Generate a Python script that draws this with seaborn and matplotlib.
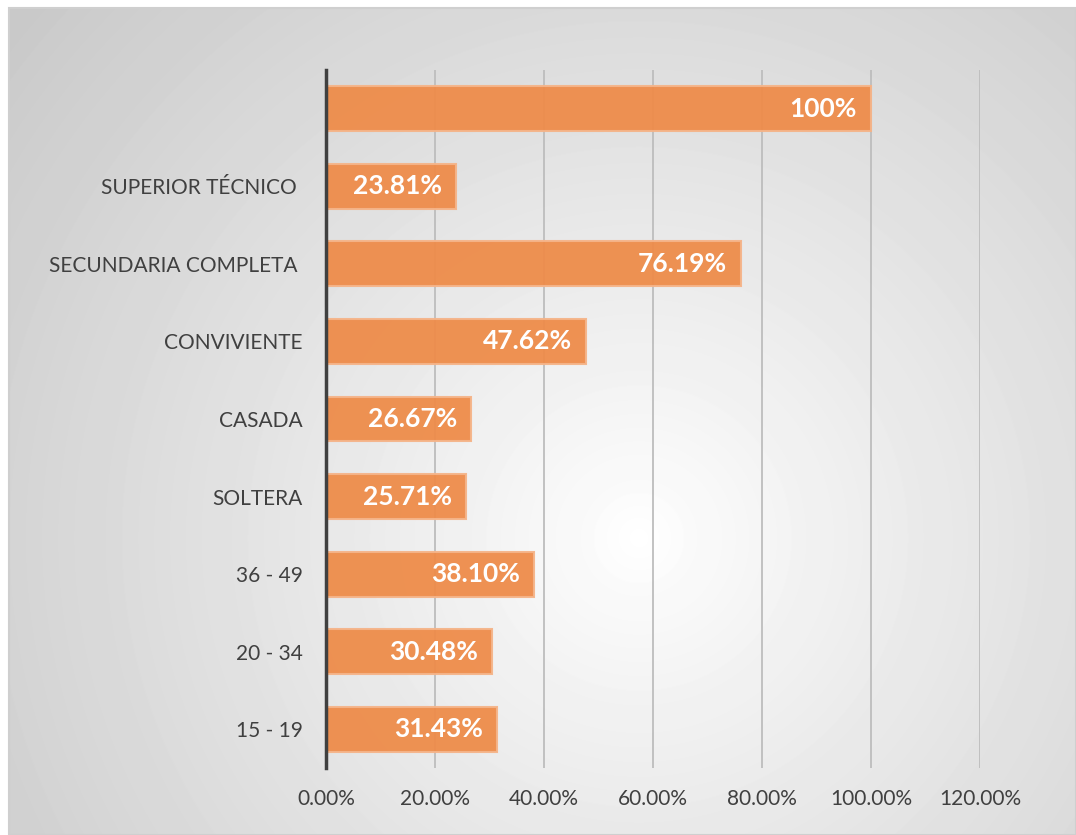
import numpy as np
import pandas as pd
import seaborn as sns
from matplotlib import pyplot as plt
from matplotlib.patches import Rectangle

# Data (top to bottom)
categories = ["", "SUPERIOR TÉCNICO ", "SECUNDARIA COMPLETA ", "CONVIVIENTE",
              "CASADA", "SOLTERA", "36 - 49", "20 - 34", "15 - 19"]
values = [100.0, 23.81, 76.19, 47.62, 26.67, 25.71, 38.10, 30.48, 31.43]
value_labels = ["100%", "23.81%", "76.19%", "47.62%", "26.67%", "25.71%",
                "38.10%", "30.48%", "31.43%"]
x_ticks = [0, 20, 40, 60, 80, 100, 120]

df = pd.DataFrame({"cat": categories, "pct": values})

sns.set_theme(style="white")
plt.rcParams["font.family"] = ["Lato", "DejaVu Sans"]

fig = plt.figure(figsize=(10.76, 8.35), dpi=100)
fig.patch.set_facecolor("white")

# radial gradient background of the chart area
bg = fig.add_axes([9 / 1076, 0, 1 - 9 / 1076, 1 - 8 / 835])
h, w = 827, 1067
yy, xx = np.mgrid[0:h, 0:w]
r = np.sqrt((xx - 630) ** 2 + (yy - 530) ** 2) / 850
grad = 1 - 0.22 * np.clip(r, 0, 1) ** 0.9
bg.imshow(grad, cmap="gray", vmin=0, vmax=1, aspect="auto", interpolation="bilinear")
bg.set_axis_off()
fig.add_artist(Rectangle((9 / 1076, 0), 1 - 9 / 1076, 1 - 8 / 835, transform=fig.transFigure,
                         fill=False, edgecolor="#CFCFCF", lw=1.5))

ax = fig.add_axes([326 / 1076, 67 / 835, (980 - 326) / 1076, (768 - 70) / 835])
ax.set_facecolor("none")
ax.set_axisbelow(True)
ax.grid(axis="x", color="#BDBDBD", lw=1.3)
ax.grid(axis="y", visible=False)

sns.barplot(data=df, x="pct", y="cat", order=categories, orient="h", ax=ax,
            color="#EE8C4A", saturation=1, alpha=0.95, width=0.58,
            edgecolor="#F5B489", linewidth=1.5)

for i, (v, lab) in enumerate(zip(values, value_labels)):
    ax.annotate(lab, (v, i), xytext=(-10, 0), textcoords="offset points",
                ha="right", va="center", color="white", fontsize=19, fontweight="bold")

ax.set_xlim(0, 120)
ax.set_xticks(x_ticks)
ax.set_xticklabels([f"{t:.2f}%" for t in x_ticks])
ax.set_xlabel("")
ax.set_ylabel("")
ax.tick_params(axis="both", length=0, labelsize=15, labelcolor="#404040")
ax.tick_params(axis="x", pad=15)
ax.tick_params(axis="y", pad=17)
for s in ["top", "right", "bottom"]:
    ax.spines[s].set_visible(False)
ax.spines["left"].set_color("#404040")
ax.spines["left"].set_linewidth(2.5)

fig.savefig("out.png", dpi=100)
